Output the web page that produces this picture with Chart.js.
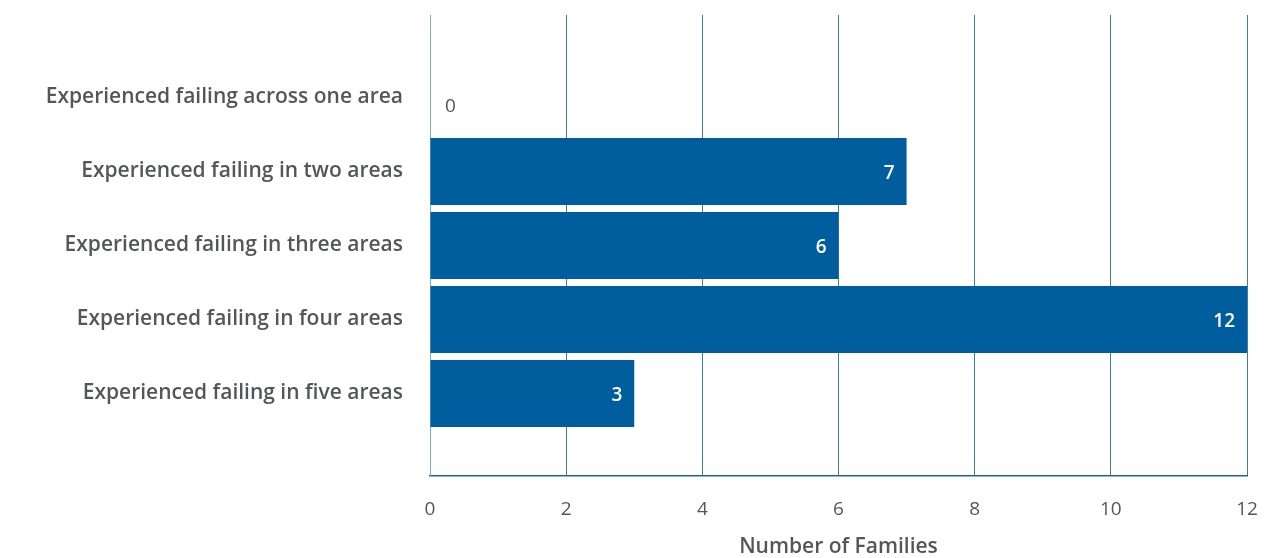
<!DOCTYPE html>
<html>
<head>
<meta charset="utf-8">
<script src="https://cdn.jsdelivr.net/npm/chart.js@4.4.1/dist/chart.umd.min.js"></script>
<style>
    html, body { margin: 0; padding: 0; background: #ffffff; }
    #wrap { width: 1276px; height: 558px; }
</style>
</head>
<body>
<div id="wrap"><canvas id="familiesChart"></canvas></div>
<script>
const categories = [
    'Experienced failing across one area',
    'Experienced failing in two areas',
    'Experienced failing in three areas',
    'Experienced failing in four areas',
    'Experienced failing in five areas'
];
const families = [0, 7, 6, 12, 3];
const xTicks = [0, 2, 4, 6, 8, 10, 12];

const barColor = '#005e9e';
const textColor = '#555659';
const fontFamily = '"Open Sans", Lato, sans-serif';

// value labels: white inside the bar end, grey outside when the bar is empty
const valueLabels = {
    id: 'valueLabels',
    afterDatasetsDraw(chart) {
        const ctx = chart.ctx;
        const meta = chart.getDatasetMeta(0);
        ctx.save();
        ctx.textBaseline = 'middle';
        meta.data.forEach((bar, i) => {
            const v = families[i];
            if (v === 0) {
                ctx.font = '400 19px ' + fontFamily;
                ctx.fillStyle = textColor;
                ctx.textAlign = 'left';
                ctx.fillText(String(v), bar.x + 15, bar.y + 9);
            } else {
                ctx.font = '600 19px ' + fontFamily;
                ctx.fillStyle = '#ffffff';
                ctx.textAlign = 'right';
                ctx.fillText(String(v), bar.x - 12, bar.y + 2);
            }
        });
        ctx.restore();
    }
};

const ctx = document.getElementById('familiesChart').getContext('2d');
new Chart(ctx, {
    type: 'bar',
    data: {
        datasets: [{
            data: families.map((v, i) => ({ x: v, y: i })),
            backgroundColor: barColor,
            borderWidth: 0,
            categoryPercentage: 1,
            barPercentage: 0.905
        }]
    },
    options: {
        indexAxis: 'y',
        responsive: true,
        maintainAspectRatio: false,
        animation: false,
        layout: {
            padding: { top: 15, right: 29, bottom: 0, left: 0 }
        },
        plugins: {
            legend: { display: false },
            tooltip: { enabled: false }
        },
        scales: {
            x: {
                type: 'linear',
                min: 0,
                max: 12,
                afterBuildTicks: (scale) => {
                    scale.ticks = xTicks.map(v => ({ value: v }));
                },
                afterFit: (scale) => {
                    scale.height = 82;
                    scale.paddingLeft = 0;
                    scale.paddingRight = 0;
                },
                grid: {
                    color: '#3f7bb1',
                    lineWidth: 1,
                    drawTicks: false
                },
                border: { color: '#1d64a2', width: 1.5 },
                ticks: {
                    padding: 22,
                    color: textColor,
                    font: { family: fontFamily, size: 19, weight: '400' }
                },
                title: {
                    display: true,
                    text: 'Number of Families',
                    color: textColor,
                    font: { family: fontFamily, size: 21, weight: '600', lineHeight: 1.0 },
                    padding: { top: 0, bottom: 0 }
                }
            },
            y: {
                type: 'linear',
                reverse: true,
                offset: false,
                min: -1.115,
                max: 5.115,
                afterBuildTicks: (scale) => {
                    scale.ticks = categories.map((c, i) => ({ value: i }));
                },
                afterFit: (scale) => {
                    scale.width = 430;
                    scale.paddingTop = 0;
                    scale.paddingBottom = 0;
                },
                grid: { display: false, drawTicks: false, offset: false },
                border: { color: '#7eaad2', width: 1 },
                ticks: {
                    padding: 27,
                    color: textColor,
                    font: { family: fontFamily, size: 21, weight: '600' },
                    callback: (value) => categories[value]
                }
            }
        }
    },
    plugins: [valueLabels]
});
</script>
</body>
</html>
